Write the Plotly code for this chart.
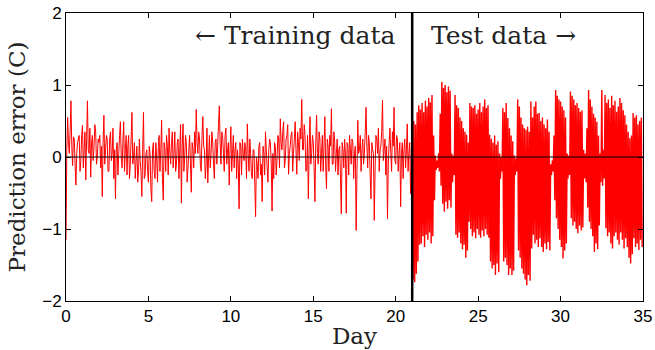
import plotly.graph_objects as go

# ---- data ----
SPLIT_DAY = 21.0
TRAIN_START = 0.0
TRAIN_STEP = 0.1
TEST_START = 21.0
TEST_STEP = 0.1

# training error, sampled on the whole step ...
train_error = [
    -1.15, 0.55, 0.05, 0.78, -0.12, 0.25, -0.39, 0.20, 0.30, -0.05,
    0.44, 0.10, -0.32, 0.78, 0.05, -0.28, 0.30, 0.15, 0.35, 0.00,
    0.20, -0.15, -0.55, 0.58, 0.10, 0.25, -0.20, 0.35, 0.05, -0.30,
    -0.58, 0.20, 0.05, 0.49, -0.15, 0.49, 0.10, -0.25, 0.30, -0.10,
    0.62, 0.00, -0.30, 0.15, -0.20, -0.05, -0.55, 0.62, -0.25, 0.10,
    -0.35, 0.05, -0.62, 0.20, -0.30, 0.00, 0.15, -0.20, 0.51, -0.60,
    0.10, 0.30, -0.25, 0.05, 0.20, -0.15, 0.35, -0.10, 0.25, 0.10,
    -0.64, 0.46, 0.00, 0.20, -0.15, 0.30, -0.49, 0.10, 0.35, 0.66,
    0.05, 0.25, -0.20, 0.56, 0.10, -0.10, -0.36, 0.30, 0.05, 0.20,
    -0.30, 0.25, 0.15, 0.71, -0.10, 0.30, -0.20, 0.40, 0.10, -0.39,
    0.42, 0.05, -0.15, 0.20, 0.10, -0.72, 0.15, 0.25, -0.05, 0.10,
    0.46, -0.20, 0.05, -0.30, 0.10, -0.83, -0.10, 0.15, -0.25, -0.62,
    0.05, 0.35, -0.15, 0.10, 0.20, -0.75, -0.30, 0.15, -0.05, 0.25,
    0.53, 0.10, 0.49, -0.05, 0.30, -0.24, 0.15, 0.35, 0.05, 0.49,
    -0.24, 0.20, 0.40, 0.80, 0.10, 0.30, -0.15, -0.58, 0.56, 0.05,
    0.20, -0.62, 0.58, -0.10, 0.25, 0.05, -0.20, 0.56, -0.44, 0.15,
    0.30, 0.67, -0.10, 0.20, 0.05, -0.25, 0.15, -0.79, 0.10, 0.25,
    -0.78, 0.15, 0.30, -0.10, 0.20, 0.05, -1.02, 0.51, 0.10, -0.20,
    0.25, 0.05, 0.69, -0.15, 0.20, -0.58, 0.10, -0.88, 0.30, 0.05,
    -0.20, 0.15, 0.79, 0.10, -0.25, -0.86, 0.20, 0.05, 0.35, 0.69,
    -0.10, 0.25, 0.05, -0.69, 0.20, 0.10, -0.15, 0.46, 0.05, -0.51,
]
# ... and on the half step in between
train_error_mid = [
    0.10, 0.20, 0.35, 0.15, 0.28, -0.10, 0.05, 0.25, -0.20, 0.30,
    -0.15, 0.35, 0.25, 0.10, 0.40, 0.20, -0.05, 0.45, -0.10, 0.25,
    0.30, 0.15, 0.20, -0.10, 0.30, -0.20, 0.25, -0.05, 0.40, 0.10,
    0.10, -0.25, 0.30, 0.00, 0.20, -0.20, 0.30, 0.15, -0.30, 0.25,
    -0.10, 0.20, -0.05, -0.35, 0.25, -0.20, 0.10, -0.30, 0.05, -0.20,
    0.15, -0.45, 0.10, -0.20, 0.20, -0.35, 0.30, 0.10, -0.30, 0.20,
    -0.20, 0.15, 0.40, -0.10, 0.35, 0.05, -0.20, 0.20, -0.30, 0.45,
    0.15, -0.20, 0.30, -0.35, 0.10, -0.10, 0.20, -0.15, 0.05, 0.20,
    0.35, -0.10, 0.30, 0.15, -0.30, 0.40, 0.00, -0.15, 0.35, -0.10,
    0.20, -0.10, 0.45, 0.20, 0.35, 0.05, 0.30, -0.10, 0.20, 0.10,
    -0.20, 0.30, 0.10, -0.30, -0.10, 0.20, -0.25, 0.05, 0.20, -0.30,
    0.05, 0.25, -0.25, 0.10, -0.35, 0.00, -0.30, 0.20, -0.10, 0.15,
    -0.25, 0.10, -0.35, 0.25, -0.10, 0.05, 0.20, -0.25, 0.30, -0.15,
    0.20, 0.35, -0.15, 0.25, 0.45, 0.05, 0.30, -0.20, 0.25, 0.10,
    0.35, -0.05, 0.25, 0.10, 0.45, -0.20, 0.30, 0.10, -0.10, 0.30,
    -0.15, 0.20, 0.05, 0.35, -0.20, 0.30, 0.15, -0.10, 0.25, -0.20,
    0.15, -0.10, 0.35, -0.20, 0.25, 0.10, -0.30, 0.20, -0.15, 0.05,
    0.20, -0.25, 0.10, 0.25, -0.30, 0.15, -0.20, 0.05, 0.30, 0.10,
    -0.10, 0.35, 0.15, 0.30, -0.25, 0.20, 0.05, -0.15, 0.25, 0.40,
    0.10, 0.35, -0.05, 0.25, 0.15, -0.10, 0.40, -0.20, 0.15, -0.05,
    0.30, -0.20, 0.20, 0.05, -0.30, 0.25, 0.10, -0.20, 0.20, 0.10,
]

# test period: error swings rapidly between an upper and a lower value
test_upper = [
    0.05, 0.50, 0.45, 0.62, 0.72, 0.66, 0.75, 0.62, 0.78, 0.70,
    0.82, 0.76, 0.86, 0.30, 0.02, -0.05, 0.05, 0.60, 1.04, 0.96,
    1.00, 0.90, 0.98, 0.92, 0.05, 0.02, 0.86, 0.72, 0.68, 0.55,
    0.50, 0.40, 0.35, 0.31, 0.20, 0.75, 0.70, 0.68, 0.72, 0.60,
    0.66, 0.75, 0.62, 0.70, 0.80, 0.68, 0.72, 0.31, 0.25, 0.20,
    0.30, 0.17, 0.22, 0.05, 0.00, 0.68, 0.62, 0.75, 0.54, 0.40,
    0.30, 0.22, 0.02, -0.02, 0.80, 0.70, 0.55, 0.45, 0.40, 0.38,
    0.42, 0.35, 0.77, 0.55, 0.70, 0.77, 0.60, 0.61, 0.50, 0.55,
    0.45, 0.40, 0.52, 0.35, -0.10, -0.05, 0.30, 0.93, 0.85, 0.80,
    0.77, 0.70, 0.65, 0.55, 0.05, 0.02, 0.91, 0.85, 0.80, 0.72,
    0.75, 0.68, 0.63, 0.65, 0.10, 0.05, 0.40, 0.93, 0.80, 0.70,
    0.60, 0.55, 0.49, 0.30, 0.05, 0.93, 0.10, 0.86, 0.75, 0.80,
    0.68, 0.85, 0.72, 0.78, 0.63, 0.70, 0.82, 0.75, 0.65, 0.58,
    0.45, 0.35, 0.26, 0.30, 0.61, 0.55, 0.58, 0.45, 0.50, 0.55,
]
test_lower = [
    -1.70, -1.74, -1.62, -1.45, -1.22, -1.20, -1.10, -1.25, -1.08, -1.15,
    -1.05, -1.20, -1.10, -0.60, -0.18, -0.15, -0.20, -0.40, -0.65, -0.76,
    -0.62, -0.72, -0.60, -0.70, -0.35, -0.25, -1.08, -1.12, -1.05, -1.20,
    -1.28, -1.22, -1.40, -1.30, -0.90, -1.00, -1.10, -1.05, -1.13, -1.00,
    -1.08, -1.12, -1.02, -1.10, -1.00, -1.08, -1.12, -1.45, -1.55, -1.50,
    -1.64, -1.48, -1.60, -0.30, -0.20, -1.45, -1.40, -1.50, -1.64, -1.55,
    -1.64, -1.58, -0.25, -0.20, -1.30, -1.40, -1.55, -1.62, -1.70, -1.78,
    -1.64, -1.72, -1.27, -1.08, -1.20, -1.15, -1.25, -1.13, -1.25, -1.32,
    -1.20, -1.28, -1.18, -1.30, -0.25, -0.20, -0.60, -0.85, -1.00, -1.15,
    -1.25, -1.41, -1.30, -1.20, -0.30, -0.25, -0.85, -0.95, -0.90, -1.00,
    -1.06, -0.95, -1.02, -0.98, -0.30, -0.35, -0.70, -0.90, -1.00, -1.10,
    -1.32, -1.20, -1.28, -0.95, -0.35, -0.40, -0.30, -0.99, -1.10, -1.05,
    -1.20, -1.27, -1.10, -1.05, -1.15, -1.22, -1.05, -1.15, -1.27, -1.13,
    -1.25, -1.40, -1.48, -1.35, -1.13, -1.25, -1.20, -1.29, -1.15, -1.25,
]

x_ticks = [0, 5, 10, 15, 20, 25, 30, 35]
y_ticks = [-2, -1, 0, 1, 2]
x_range = [0, 35]
y_range = [-2, 2]

# ---- build traces ----
train_x, train_y = [], []
for i, (a, b) in enumerate(zip(train_error, train_error_mid)):
    t = TRAIN_START + i * TRAIN_STEP
    train_x += [t, t + TRAIN_STEP / 2]
    train_y += [a, b]

test_x, test_y = [], []
for i, (u, l) in enumerate(zip(test_upper, test_lower)):
    t = TEST_START + i * TEST_STEP
    test_x += [t, t + TEST_STEP / 2]
    test_y += [u, l]

RED = "#ff0000"
fig = go.Figure()
fig.add_trace(go.Scatter(x=train_x + [test_x[0]], y=train_y + [test_y[0]],
                         mode="lines", line=dict(color=RED, width=1, simplify=False),
                         showlegend=False, hoverinfo="skip"))
fig.add_trace(go.Scatter(x=test_x, y=test_y, mode="lines",
                         line=dict(color=RED, width=1.4, simplify=False),
                         showlegend=False, hoverinfo="skip"))

# zero line above data, split line
fig.add_shape(type="line", x0=x_range[0], x1=x_range[1], y0=0, y1=0,
              xref="x", yref="y", line=dict(color="black", width=1), layer="above")
fig.add_shape(type="line", x0=SPLIT_DAY, x1=SPLIT_DAY, y0=y_range[0], y1=y_range[1],
              xref="x", yref="y", line=dict(color="black", width=2.5), layer="above")

serif = "DejaVu Serif"
fig.add_annotation(x=SPLIT_DAY - 0.85, y=1.69, xref="x", yref="y",
                   text="← Training data", showarrow=False, xanchor="right",
                   yanchor="middle", font=dict(family=serif, size=25, color="#222"))
fig.add_annotation(x=SPLIT_DAY + 1.0, y=1.69, xref="x", yref="y",
                   text="Test data →", showarrow=False, xanchor="left",
                   yanchor="middle", font=dict(family=serif, size=25, color="#222"))

axis_common = dict(showline=True, linecolor="black", linewidth=1, mirror="ticks",
                   ticks="inside", ticklen=5, tickcolor="black", showgrid=False,
                   zeroline=False, automargin=False,
                   tickfont=dict(family="Liberation Sans", size=17, color="black"))
fig.update_xaxes(range=x_range, tickvals=x_ticks,
                 title=dict(text="Day", font=dict(family=serif, size=23, color="#222"),
                            standoff=2),
                 **axis_common)
fig.update_yaxes(range=y_range, tickvals=y_ticks,
                 title=dict(text="Prediction error (C)",
                            font=dict(family=serif, size=23, color="#222"), standoff=10),
                 **axis_common)

fig.update_layout(width=655, height=350, plot_bgcolor="white", paper_bgcolor="white",
                  margin=dict(l=66, r=12, t=13, b=49))

fig.write_html("out.html", config={"displayModeBar": False},
               post_script="document.body.style.margin='0';document.body.style.padding='0';")
